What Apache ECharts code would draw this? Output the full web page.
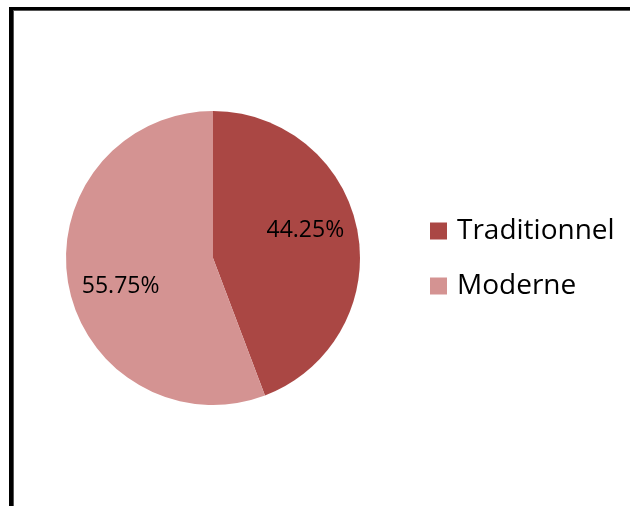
<!DOCTYPE html>
<html>
<head>
<meta charset="utf-8">
<style>
  html, body { margin: 0; padding: 0; background: #ffffff; }
  #chart { width: 630px; height: 506px; }
</style>
<script src="https://cdn.jsdelivr.net/npm/echarts@6/dist/echarts.min.js"></script>
</head>
<body>
<div id="chart"></div>
<script>
// Share of each type (percent)
const categories = ['Traditionnel', 'Moderne'];
const shares = [44.25, 55.75];
const colors = ['#AA4744', '#D49392'];

const pieData = categories.map((name, i) => ({ name: name, value: shares[i] }));

const chart = echarts.init(document.getElementById('chart'), null, { renderer: 'canvas' });

chart.setOption({
  backgroundColor: '#ffffff',
  animation: false,
  color: colors,
  legend: {
    orient: 'vertical',
    left: 425,
    top: 211,
    itemWidth: 17,
    itemHeight: 17,
    itemGap: 25,
    icon: 'rect',
    data: categories,
    textStyle: {
      fontFamily: 'Open Sans',
      fontSize: 28,
      lineHeight: 30,
      color: '#000000',
      padding: [0, 0, 0, 5]
    }
  },
  graphic: [
    // frame: top and left edges of the chart border
    { type: 'rect', shape: { x: 9, y: 7, width: 630, height: 3 }, style: { fill: '#000000' }, silent: true },
    { type: 'rect', shape: { x: 13, y: 10, width: 630, height: 1 }, style: { fill: '#555555' }, silent: true },
    { type: 'rect', shape: { x: 9, y: 7, width: 4, height: 510 }, style: { fill: '#000000' }, silent: true },
    { type: 'rect', shape: { x: 13, y: 10, width: 1, height: 510 }, style: { fill: '#555555' }, silent: true }
  ],
  series: [
    {
      type: 'pie',
      center: [213, 258],
      radius: [0, 147],
      startAngle: 90,
      clockwise: true,
      label: { show: false },
      labelLine: { show: false },
      itemStyle: { borderWidth: 0 },
      emphasis: { disabled: true },
      data: pieData
    },
    {
      // transparent ring that carries the percentage labels, turned slightly
      type: 'pie',
      center: [213, 258],
      radius: [0, 187],
      startAngle: 96.5,
      clockwise: true,
      silent: true,
      itemStyle: { color: 'rgba(0,0,0,0)', borderWidth: 0 },
      label: {
        show: true,
        position: 'inside',
        fontFamily: 'Open Sans',
        fontSize: 23,
        color: '#000000',
        formatter: p => p.value.toFixed(2) + '%'
      },
      labelLine: { show: false },
      emphasis: { disabled: true },
      data: pieData
    }
  ]
});
</script>
</body>
</html>
